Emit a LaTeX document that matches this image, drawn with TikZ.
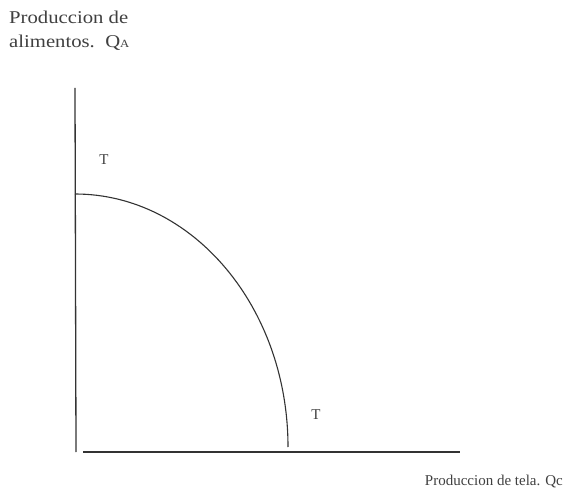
\documentclass[tikz,border=0pt]{standalone}
\usepackage{fontspec}
\setmainfont{Liberation Serif}
\begin{document}
\begin{tikzpicture}[x=1pt,y=-1pt,
  axis/.style={draw=black!80,line width=1.3pt},
  curve/.style={draw=black!80,line width=1.1pt},
  lbl/.style={inner sep=0pt,font=\fontsize{18}{22}\selectfont,text=black!75,xscale=1.15},
  lblb/.style={inner sep=0pt,font=\fontsize{15}{18}\selectfont,text=black!75},
  tlbl/.style={inner sep=0pt,font=\fontsize{15}{18}\selectfont,text=black!75}]
\useasboundingbox[fill=white] (0,0) rectangle (565,494);
\coordinate (ytop) at (75,88);
\coordinate (orig) at (76,452);
\coordinate (xstart) at (83,452);
\coordinate (xend) at (460,452);
\coordinate (ctop) at (75,194);
\draw[axis] (ytop) -- (orig);
\draw[axis] (xstart) -- (xend);
\draw[curve] (ctop) arc[start angle=90,end angle=0,x radius=213,y radius=-253];
\node[lbl,anchor=base west] (l1) at (9,24) {Produccion de};
\node[lbl,anchor=base west] (l2) at (9,48) {alimentos.\ \ Q{\fontsize{11}{12}\selectfont A}};
\node[lblb,anchor=base east] (l3) at (563,485) {Produccion de tela. Qc};
\node[tlbl] (t1) at (104,160) {T};
\node[tlbl] (t2) at (316,415) {T};
\end{tikzpicture}
\end{document}
